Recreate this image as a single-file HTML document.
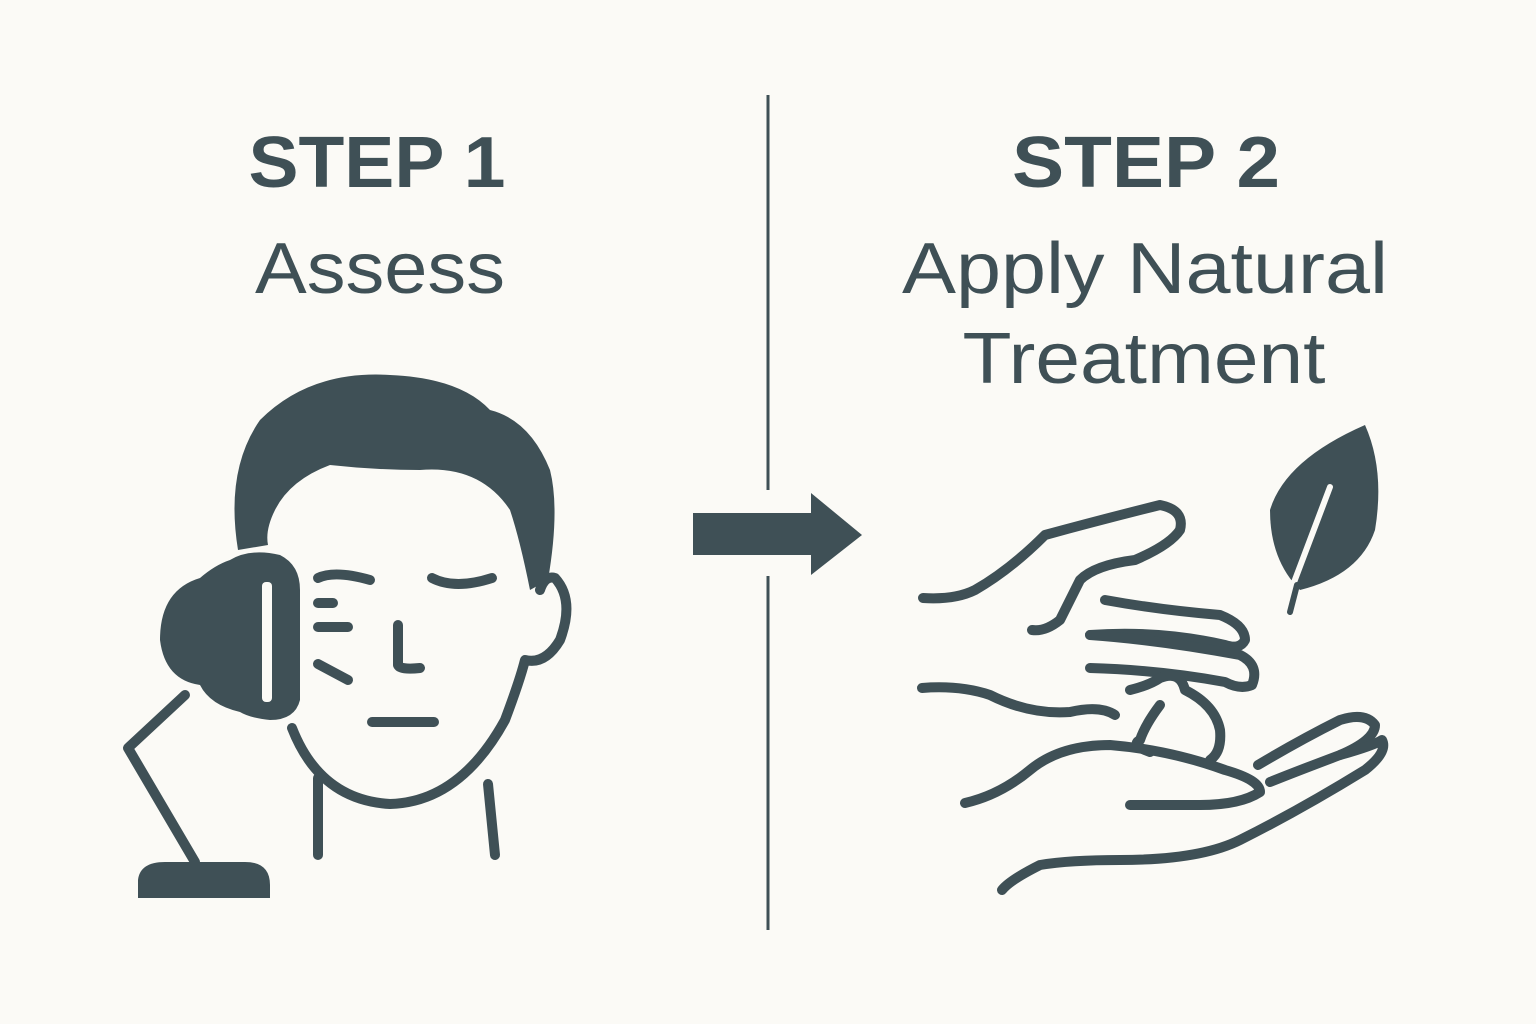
<!DOCTYPE html>
<html><head><meta charset="utf-8"><style>
html,body{margin:0;padding:0;background:#fbfaf6;}
svg{display:block}
</style></head><body>
<svg width="1536" height="1024" viewBox="0 0 1536 1024" xmlns="http://www.w3.org/2000/svg">
<rect width="1536" height="1024" fill="#fbfaf6"/>
<g fill="#3f5056" font-family="Liberation Sans, sans-serif" text-anchor="middle">
<text x="377" y="187" font-size="72" font-weight="bold" textLength="257" lengthAdjust="spacingAndGlyphs">STEP 1</text>
<text x="380" y="293" font-size="72" textLength="250" lengthAdjust="spacingAndGlyphs">Assess</text>
<text x="1146" y="187" font-size="72" font-weight="bold" textLength="268" lengthAdjust="spacingAndGlyphs">STEP 2</text>
<text x="1145" y="293" font-size="72" textLength="486" lengthAdjust="spacingAndGlyphs">Apply Natural</text>
<text x="1144" y="383" font-size="72" textLength="363" lengthAdjust="spacingAndGlyphs">Treatment</text>
</g>
<g stroke="#3f5056" stroke-width="3">
<line x1="768" y1="95" x2="768" y2="490"/>
<line x1="768" y1="576" x2="768" y2="930"/>
</g>
<g fill="#3f5056">
<rect x="693" y="513" width="120" height="42"/>
<polygon points="811,493 862,535 811,575"/>
</g>
<g fill="none" stroke="#3f5056" stroke-width="10" stroke-linecap="round" stroke-linejoin="round">
<path d="M292 728 Q320 800 390 804 Q460 802 505 720 Q520 680 525 660 Q545 665 560 640 Q575 600 555 578 Q545 575 540 590"/>
<path d="M318 778 L318 855"/>
<path d="M488 784 L495 855"/>
<path d="M318 578 Q335 570 370 580"/>
<path d="M432 578 Q455 590 492 578"/>
<path d="M318 603 L333 603"/>
<path d="M318 627 L348 627"/>
<path d="M318 664 L348 680"/>
<path d="M398 625 L398 665 Q400 670 420 668"/>
<path d="M372 722 L434 722"/>
<path d="M185 695 L128 748 L195 862"/>
</g>
<path fill="#3f5056" d="M238 550 Q225 470 260 420 Q310 370 390 375 Q460 378 490 410 Q530 420 550 470 Q560 510 548 580 L530 590 Q520 540 510 510 Q480 465 420 470 Q375 470 330 465 Q290 480 275 510 Q265 530 268 545 Z"/>
<path fill="#3f5056" d="M230 560 Q250 548 280 555 Q300 565 300 590 L300 700 Q295 720 270 720 Q250 718 240 712 Q210 705 200 685 Q165 680 160 640 Q160 590 200 578 Q215 565 230 560 Z"/>
<rect x="262" y="582" width="10" height="120" rx="4" fill="#fbfaf6"/>
<path fill="#3f5056" d="M138 898 L138 880 Q140 862 165 862 L245 862 Q270 862 270 885 L270 898 Z"/>
<g fill="none" stroke="#3f5056" stroke-width="10" stroke-linecap="round" stroke-linejoin="round">
<path d="M923 598 Q955 600 975 590 Q1010 570 1045 535 Q1100 520 1160 505 Q1185 510 1180 530 Q1170 545 1135 560 Q1095 565 1080 580 Q1065 610 1060 620 Q1045 632 1032 630"/>
<path d="M1105 600 Q1160 610 1220 615 Q1245 625 1245 640 Q1240 650 1225 645 Q1160 630 1090 635"/>
<path d="M1090 635 Q1160 640 1240 655 Q1260 665 1252 685 Q1240 690 1225 682 Q1160 670 1090 668"/>
<path d="M922 688 Q960 685 990 695 Q1030 715 1070 712 Q1100 705 1115 715"/>
<path d="M1130 690 Q1150 685 1160 678 Q1180 670 1185 690 Q1215 705 1220 730 Q1222 752 1210 760"/>
<path d="M1160 705 Q1145 725 1140 740 Q1130 745 1150 752"/>
<path d="M965 803 Q1000 795 1030 770 Q1060 745 1110 745 Q1170 750 1225 770 Q1260 780 1260 792 Q1240 805 1200 805 L1130 805"/>
<path d="M1258 765 Q1300 740 1340 720 Q1365 712 1375 725 Q1375 740 1340 755 Q1300 770 1270 782"/>
<path d="M1340 755 Q1375 745 1382 740 Q1388 752 1365 770 Q1300 810 1240 840 Q1200 860 1120 860 Q1070 860 1040 865 Q1010 880 1002 890"/>
</g>
<path fill="#3f5056" d="M1365 425 Q1385 470 1375 530 Q1360 575 1300 590 Q1270 560 1270 510 Q1285 460 1365 425 Z"/>
<path d="M1330 487 Q1310 540 1293 585 L1290 610" fill="none" stroke="#fbfaf6" stroke-width="6" stroke-linecap="round"/>
<path d="M1297 585 L1290 612" fill="none" stroke="#3f5056" stroke-width="6" stroke-linecap="round"/>
</svg>
</body></html>
